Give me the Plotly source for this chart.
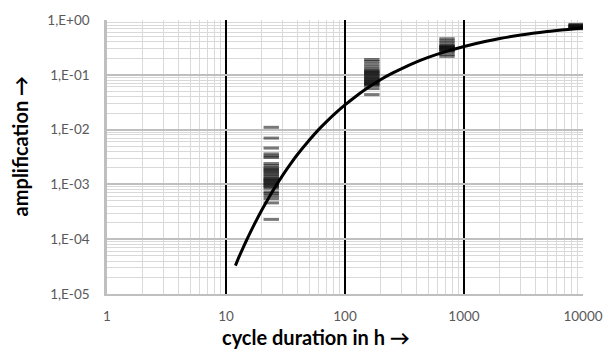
import plotly.graph_objects as go

# ---- data ----
curve_x = [12, 13, 14, 15, 17, 20, 23, 26, 30, 35, 40, 50, 60, 70, 85, 100, 120, 150, 200, 250,
           300, 400, 500, 700, 1000, 1500, 2000, 3000, 5000, 7000, 10000]
curve_y = [3.3e-5, 5.0e-5, 7.2e-5, 9.9e-5, 1.73e-4, 3.4e-4, 5.85e-4, 9.1e-4, 1.48e-3, 2.4e-3,
           3.55e-3, 6.4e-3, 0.0100, 0.0140, 0.0208, 0.0282, 0.0386, 0.0548, 0.082, 0.107,
           0.130, 0.172, 0.208, 0.265, 0.328, 0.405, 0.46, 0.532, 0.615, 0.665, 0.715]

meas_24 = [0.011, 0.007, 0.0046, 0.0036, 0.0033, 0.0031, 0.0024, 0.0022, 0.0020, 0.0019, 0.0018,
           0.0017, 0.0016, 0.0015, 0.0014, 0.0013, 0.00125, 0.0012, 0.00115, 0.0011, 0.00105,
           0.0010, 0.00095, 0.0009, 0.00085, 0.00073, 0.00068, 0.00062, 0.00055, 0.00046, 0.00023]
meas_168 = [0.19, 0.175, 0.156, 0.14, 0.127, 0.119, 0.114, 0.11, 0.105, 0.10, 0.095, 0.09, 0.086,
            0.082, 0.078, 0.075, 0.072, 0.069, 0.066, 0.064, 0.056, 0.0435]
meas_720 = [0.455, 0.415, 0.38, 0.345, 0.335, 0.325, 0.315, 0.305, 0.295, 0.285, 0.275, 0.265,
            0.236, 0.217]
meas_8760 = [0.83, 0.81, 0.79, 0.77, 0.75, 0.73, 0.71, 0.69]
durations = [24, 168, 720, 8760]

x_ticks = [1, 10, 100, 1000, 10000]
x_ticktext = ["1", "10", "100", "1000", "10000"]
y_ticks = [1e-5, 1e-4, 1e-3, 1e-2, 1e-1, 1]
y_ticktext = ["1,E-05", "1,E-04", "1,E-03", "1,E-02", "1,E-01", "1,E+00"]

x_title = "cycle duration in h \u2192"
y_title = "amplification \u2192"

# ---- build ----
mx, my = [], []
for d, vals in zip(durations, [meas_24, meas_168, meas_720, meas_8760]):
    mx += [d] * len(vals)
    my += vals

fig = go.Figure()
fig.add_trace(go.Scatter(
    x=mx, y=my, mode="markers",
    marker=dict(symbol="line-ew", size=11,
                line=dict(color="rgba(10,10,10,0.55)", width=3)),
    showlegend=False, hoverinfo="skip"))
fig.add_trace(go.Scatter(
    x=curve_x, y=curve_y, mode="lines", line=dict(color="black", width=3, shape="spline"),
    showlegend=False))

tickfont = dict(family="Lato", size=13.5, color="#595959")
fig.update_layout(
    width=615, height=349,
    margin=dict(l=107, r=31, t=15, b=55),
    paper_bgcolor="white", plot_bgcolor="white",
    font=dict(family="Lato"),
    xaxis=dict(type="log", range=[0, 4], tickmode="array", tickvals=x_ticks, ticktext=x_ticktext,
               showgrid=True, gridcolor="black", gridwidth=2, zeroline=False,
               showline=True, linecolor="#bfbfbf", linewidth=1.5, ticks="",
               ticklabelstandoff=9, tickfont=tickfont,
               minor=dict(dtick="D1", showgrid=True, gridcolor="#d9d9d9", gridwidth=1, ticks="")),
    yaxis=dict(type="log", range=[-5, 0], tickmode="array", tickvals=y_ticks, ticktext=y_ticktext,
               showgrid=True, gridcolor="#bfbfbf", gridwidth=1.5, zeroline=False,
               showline=True, linecolor="#bfbfbf", linewidth=2.5, ticks="",
               ticklabelstandoff=12, tickfont=tickfont,
               minor=dict(dtick="D1", showgrid=True, gridcolor="#d9d9d9", gridwidth=1, ticks="")),
    annotations=[
        dict(text="<b>" + x_title + "</b>", xref="paper", yref="paper",
             x=(316 - 107) / 477, y=(294 - 338) / 279, xanchor="center", yanchor="middle",
             showarrow=False, font=dict(family="Lato", size=20, color="black")),
        dict(text="<b>" + y_title + "</b>", xref="paper", yref="paper",
             x=(20 - 107) / 477, y=(294 - 143.5) / 279, xanchor="center", yanchor="middle",
             textangle=-90, showarrow=False, font=dict(family="Lato", size=20, color="black")),
    ],
)
fig.write_html("out.html")
